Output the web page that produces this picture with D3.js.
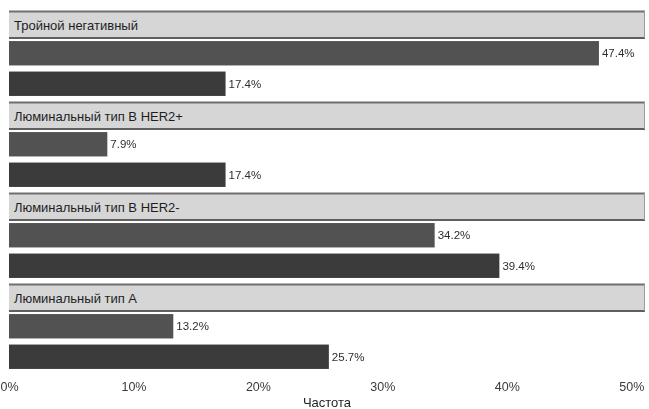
<!DOCTYPE html>
<html>
<head>
<meta charset="utf-8">
<script src="https://cdn.jsdelivr.net/npm/d3@7"></script>
<style>
  html, body { margin: 0; padding: 0; background: #fff; }
  svg { display: block; filter: blur(0.45px); }
  text { font-family: "Liberation Sans", Arial, sans-serif; }
</style>
</head>
<body>
<svg id="chart" width="649" height="409"></svg>
<script>
// Molecular subtypes (facet panels, top to bottom)
const subtypes = [
  "Тройной негативный",
  "Люминальный тип В HER2+",
  "Люминальный тип В HER2-",
  "Люминальный тип А"
];
// Two compared groups, frequency in %
const groups = ["Группа 1", "Группа 2"];
const group1 = [47.4, 7.9, 34.2, 13.2];
const group2 = [17.4, 17.4, 39.4, 25.7];
const xTicks = [0, 10, 20, 30, 40, 50];
const xTitle = "Частота";

const W = 649, H = 409;
const left = 9, right = 645;
const top0 = 11, panelPitch = 91, stripH = 27, plotH = 61;

const svg = d3.select("#chart");

const x = d3.scaleLinear().domain([0, 51.1]).range([left, right]);
const yBand = d3.scaleBand().domain(groups).range([0, plotH])
  .paddingInner(0.2).paddingOuter(0.1);
const colors = d3.scaleOrdinal().domain(groups).range(["#525252", "#3b3b3b"]);

subtypes.forEach((name, i) => {
  const g = svg.append("g").attr("transform", `translate(0,${top0 + i * panelPitch})`);

  // strip header
  g.append("rect").attr("x", left).attr("y", 0)
    .attr("width", right - left).attr("height", stripH)
    .attr("fill", "#d6d6d6");
  g.append("line").attr("x1", left).attr("x2", right).attr("y1", 0.5).attr("y2", 0.5)
    .attr("stroke", "#6f6f6f").attr("stroke-width", 2);
  g.append("line").attr("x1", left).attr("x2", right).attr("y1", stripH).attr("y2", stripH)
    .attr("stroke", "#5f5f5f").attr("stroke-width", 2);
  g.append("line").attr("x1", right - 0.5).attr("x2", right - 0.5).attr("y1", 0).attr("y2", stripH)
    .attr("stroke", "#9a9a9a").attr("stroke-width", 1);
  g.append("text").attr("x", left + 5).attr("y", stripH / 2 + 5)
    .attr("font-size", 13).attr("fill", "#1e1e1e").text(name);

  // bars
  const rows = [
    { group: groups[0], value: group1[i] },
    { group: groups[1], value: group2[i] }
  ];
  const p = g.append("g").attr("transform", `translate(0,${stripH})`);
  p.selectAll("rect.bar").data(rows).join("rect")
    .attr("class", "bar")
    .attr("x", x(0))
    .attr("y", d => yBand(d.group))
    .attr("width", d => x(d.value) - x(0))
    .attr("height", yBand.bandwidth())
    .attr("fill", d => colors(d.group));
  p.selectAll("text.val").data(rows).join("text")
    .attr("class", "val")
    .attr("x", d => x(d.value) + 3)
    .attr("y", d => yBand(d.group) + yBand.bandwidth() / 2 + 4)
    .attr("font-size", 11.5).attr("fill", "#2e2e2e")
    .text(d => d.value.toFixed(1) + "%");
});

// x axis: tick labels only
const axisY = top0 + 3 * panelPitch + stripH + plotH;
const axis = d3.axisBottom(x).tickValues(xTicks).tickFormat(d => d + "%").tickSize(0).tickPadding(10);
const ax = svg.append("g").attr("transform", `translate(0,${axisY})`).call(axis);
ax.select(".domain").remove();
ax.selectAll("text").attr("font-size", 12.5).attr("fill", "#3a3a3a")
  .style("font-family", "'Liberation Sans', Arial, sans-serif");

svg.append("text").attr("x", (left + right) / 2).attr("y", 407)
  .attr("text-anchor", "middle").attr("font-size", 13).attr("fill", "#1e1e1e")
  .text(xTitle);
</script>
</body>
</html>
